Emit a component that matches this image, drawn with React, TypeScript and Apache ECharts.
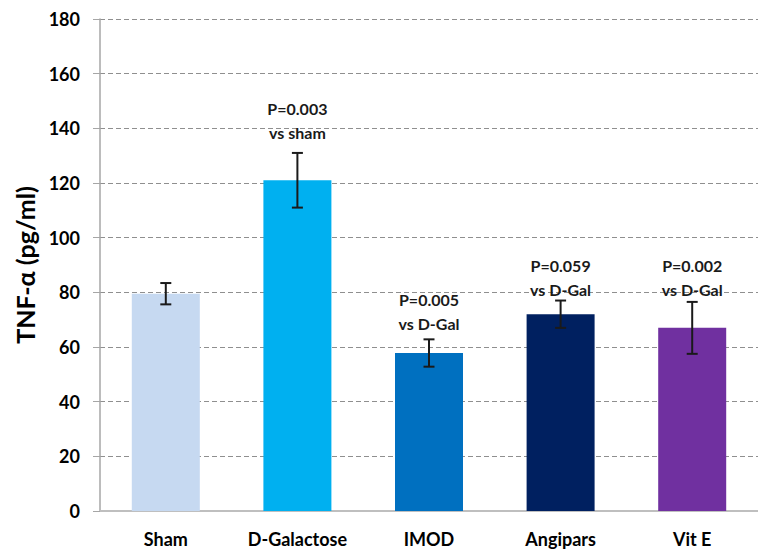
import React, { useEffect, useRef } from "react";
import * as echarts from "echarts";

const categories = ["Sham", "D-Galactose", "IMOD", "Angipars", "Vit E"];
const meanValues = [79.5, 121, 57.8, 72, 67];
const errorValues = [3.9, 10, 5, 5, 9.5];
const barColors = ["#C6D9F1", "#00B0F0", "#0070C0", "#002060", "#7030A0"];
const pLabels = ["", "P=0.003", "P=0.005", "P=0.059", "P=0.002"];
const compLabels = ["", "vs sham", "vs D-Gal", "vs D-Gal", "vs D-Gal"];
// value (in pg/ml) at which the second annotation line sits
const annotationAnchor = [null, 138.4, 68.3, 80.9, 80.9];
const yTicks = { min: 0, max: 180, interval: 20 };

const FONT = "Lato";

export default function App() {
  const ref = useRef<HTMLDivElement>(null);
  useEffect(() => {
    document.body.style.margin = "0";
    const chart = echarts.init(ref.current!, null, { renderer: "svg" });
    const errData = meanValues.map((v, i) => [i, v - errorValues[i], v + errorValues[i]]);
    const annData = annotationAnchor
      .map((a, i) => (a == null ? null : [i, a, pLabels[i], compLabels[i]]))
      .filter((d) => d !== null);
    chart.setOption({
      animation: false,
      backgroundColor: "#ffffff",
      grid: { left: 100, top: 19, width: 672, height: 492 },
      xAxis: {
        type: "category",
        data: categories,
        axisLine: { lineStyle: { color: "#bfbfbf", width: 2 } },
        axisTick: { show: false },
        axisLabel: {
          color: "#000",
          fontFamily: FONT,
          fontWeight: "bold",
          fontSize: 18,
          lineHeight: 18,
          margin: 19,
        },
      },
      yAxis: {
        type: "value",
        min: yTicks.min,
        max: yTicks.max,
        interval: yTicks.interval,
        name: "TNF-α (pg/ml)",
        nameLocation: "middle",
        nameGap: 58,
        nameTextStyle: {
          color: "#000",
          fontFamily: FONT,
          fontWeight: "bold",
          fontSize: 25,
        },
        axisLine: { show: true, lineStyle: { color: "#a6a6a6", width: 1.5 } },
        axisTick: { show: true, length: 7, lineStyle: { color: "#a6a6a6" } },
        axisLabel: {
          color: "#000",
          fontFamily: FONT,
          fontWeight: "bold",
          fontSize: 18,
          margin: 20,
        },
        splitLine: {
          show: true,
          lineStyle: { color: "#8f8f8f", type: [5, 3], width: 1.2 },
        },
      },
      series: [
        {
          type: "bar",
          data: meanValues.map((v, i) => ({ value: v, itemStyle: { color: barColors[i] } })),
          barWidth: 68,
          z: 2,
        },
        {
          type: "custom",
          data: errData,
          z: 3,
          renderItem: (params: any, api: any) => {
            const x = api.value(0);
            const lo = api.coord([x, api.value(1)]);
            const hi = api.coord([x, api.value(2)]);
            const cap = 5.5;
            const style = { stroke: "#1a1a1a", lineWidth: 2 };
            return {
              type: "group",
              children: [
                { type: "line", shape: { x1: hi[0], y1: hi[1], x2: lo[0], y2: lo[1] }, style },
                { type: "line", shape: { x1: hi[0] - cap, y1: hi[1], x2: hi[0] + cap, y2: hi[1] }, style },
                { type: "line", shape: { x1: lo[0] - cap, y1: lo[1], x2: lo[0] + cap, y2: lo[1] }, style },
              ],
            };
          },
        },
        {
          type: "custom",
          data: annData,
          z: 4,
          renderItem: (params: any, api: any) => {
            const d = annData[params.dataIndex] as any[];
            const p = api.coord([d[0], d[1]]);
            return {
              type: "text",
              x: p[0],
              y: p[1] + 11.5,
              style: {
                text: d[2] + "\n" + d[3],
                align: "center",
                verticalAlign: "bottom",
                fontFamily: FONT,
                fontWeight: "bold",
                fontSize: 16,
                lineHeight: 24,
                fill: "#1a1a1a",
              },
            };
          },
        },
      ],
    });
    return () => chart.dispose();
  }, []);
  return <div ref={ref} style={{ width: 758, height: 549 }} />;
}
